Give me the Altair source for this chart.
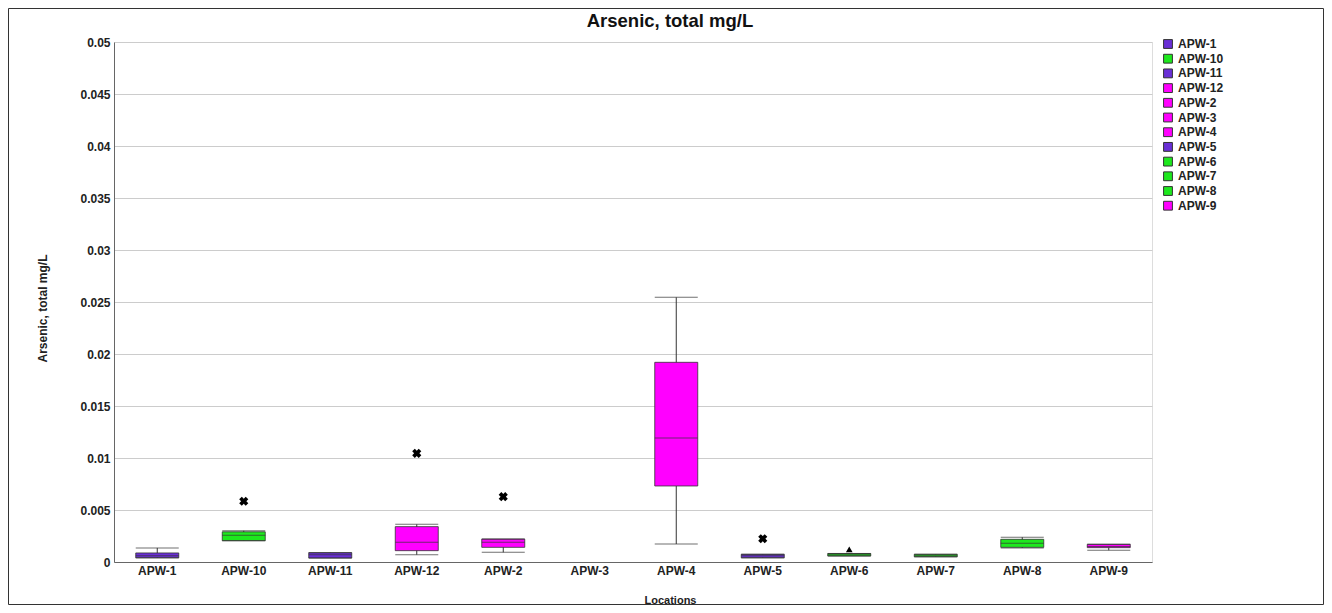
import altair as alt
import pandas as pd

chart_title = "Arsenic, total mg/L"
categories = ["APW-1", "APW-10", "APW-11", "APW-12", "APW-2", "APW-3",
              "APW-4", "APW-5", "APW-6", "APW-7", "APW-8", "APW-9"]
box_colors = ["#6a2fd6", "#1ee81e", "#6a2fd6", "#ff00ff", "#ff00ff", "#ff00ff",
              "#ff00ff", "#6a2fd6", "#1ee81e", "#1ee81e", "#1ee81e", "#ff00ff"]
whisker_low = [0.00040, 0.00205, 0.00038, 0.00070, 0.00093, None,
               0.00173, 0.00040, 0.00058, 0.00050, 0.00135, 0.00113]
q1 = [0.00040, 0.00205, 0.00038, 0.00109, 0.00141, None,
      0.00731, 0.00040, 0.00058, 0.00050, 0.00141, 0.00138]
median = [0.00060, 0.00257, 0.00070, 0.00190, 0.00190, None,
          0.01192, 0.00060, 0.00070, 0.00060, 0.00180, 0.00150]
q3 = [0.00087, 0.00290, 0.00090, 0.00340, 0.00220, None,
      0.01920, 0.00074, 0.00082, 0.00074, 0.00218, 0.00170]
whisker_high = [0.00135, 0.00300, 0.00090, 0.00362, 0.00220, None,
                0.02545, 0.00074, 0.00082, 0.00074, 0.00238, 0.00170]

outlier_locations = ["APW-10", "APW-12", "APW-2", "APW-5"]
outlier_values = [0.00584, 0.01045, 0.00628, 0.00224]
far_locations = ["APW-6"]
far_values = [0.00122]

y_ticks = [0, 0.005, 0.01, 0.015, 0.02, 0.025, 0.03, 0.035, 0.04, 0.045, 0.05]

W, H = 1038, 520
PAD_L, PAD_T = 106, 34
TOTAL_W, TOTAL_H = 1316, 597

stats = pd.DataFrame({
    "Location": categories,
    "low": whisker_low,
    "q1": q1,
    "median": median,
    "q3": q3,
    "high": whisker_high,
})
outliers = pd.DataFrame({"Location": outlier_locations, "value": outlier_values})
far = pd.DataFrame({"Location": far_locations, "value": far_values})

FONT = "Liberation Sans"

x_enc = alt.X(
    "Location:N",
    sort=categories,
    scale=alt.Scale(domain=categories, paddingInner=0, paddingOuter=0),
    axis=alt.Axis(
        title="Locations", labelAngle=0, ticks=False, grid=False,
        labelFont=FONT, labelFontSize=12, labelFontWeight="bold", labelColor="#222",
        labelPadding=3, domainColor="#666",
        titleFont=FONT, titleFontSize=11, titleFontWeight="bold", titleColor="#222",
        titleX=556, titleY=38, titleBaseline="middle", titleAlign="center",
    ),
)
y_scale = alt.Scale(domain=[0, 0.05], nice=False, zero=True)
y_axis = alt.Axis(
    title="Arsenic, total mg/L", values=y_ticks, format="~g", ticks=False,
    grid=True, gridColor="#cccccc", gridWidth=1, domainColor="#666",
    labelFont=FONT, labelFontSize=12, labelFontWeight="bold", labelColor="#222",
    labelPadding=4,
    titleFont=FONT, titleFontSize=12, titleFontWeight="bold", titleColor="#222",
    titleX=-72, titleY=H / 2 + 6, titleAngle=-90, titleBaseline="middle", titleAlign="center",
)

base = alt.Chart(stats)

whisker = base.mark_rule(color="#333", strokeWidth=1).encode(
    x=x_enc,
    y=alt.Y("low:Q", scale=y_scale, axis=y_axis),
    y2="high:Q",
)
box = base.mark_bar(size=43, stroke="#333", strokeWidth=0.8).encode(
    x=x_enc,
    y=alt.Y("q1:Q", scale=y_scale, axis=y_axis),
    y2="q3:Q",
    color=alt.Color(
        "Location:N",
        scale=alt.Scale(domain=categories, range=box_colors),
        legend=alt.Legend(
            title=None, orient="none", legendX=1048, legendY=-4,
            symbolType="square", symbolSize=78, symbolStrokeColor="#333",
            symbolStrokeWidth=1, symbolOpacity=1,
            labelFont=FONT, labelFontSize=12, labelFontWeight="bold", labelColor="#222",
            labelOffset=4, rowPadding=0.7, values=categories,
        ),
    ),
)
med = base.mark_tick(size=43, thickness=1, color="#333").encode(
    x=x_enc, y=alt.Y("median:Q", scale=y_scale, axis=y_axis)
)
cap_hi = base.mark_tick(size=43, thickness=1, color="#333").encode(
    x=x_enc, y=alt.Y("high:Q", scale=y_scale, axis=y_axis)
)
cap_lo = base.mark_tick(size=43, thickness=1, color="#333").encode(
    x=x_enc, y=alt.Y("low:Q", scale=y_scale, axis=y_axis)
)
out_pts = alt.Chart(outliers).mark_point(
    shape="cross", angle=45, filled=True, color="#000", size=85, opacity=1
).encode(x=x_enc, y=alt.Y("value:Q", scale=y_scale, axis=y_axis))
far_pts = alt.Chart(far).mark_point(
    shape="triangle-up", filled=True, color="#000", size=45, opacity=1
).encode(x=x_enc, y=alt.Y("value:Q", scale=y_scale, axis=y_axis))

frame = alt.Chart(pd.DataFrame({"k": [0]})).mark_rect(
    fillOpacity=0, stroke="#333", strokeWidth=1
).encode(
    x=alt.value(-PAD_L + 0.5), x2=alt.value(TOTAL_W - PAD_L - 0.5),
    y=alt.value(-PAD_T + 0.5), y2=alt.value(TOTAL_H - PAD_T - 0.5),
)

title_text = alt.Chart(pd.DataFrame({"t": [chart_title]})).mark_text(
    font=FONT, fontSize=18.5, fontWeight="bold", color="#111",
    align="center", baseline="alphabetic",
).encode(text="t:N", x=alt.value(556), y=alt.value(-15))

chart = alt.layer(whisker, box, med, cap_hi, cap_lo, out_pts, far_pts, frame, title_text).properties(
    width=W, height=H,
    autosize=alt.AutoSizeParams(type="none"),
    padding={"left": PAD_L, "top": PAD_T, "right": TOTAL_W - PAD_L - W, "bottom": TOTAL_H - PAD_T - H},
).configure_view(strokeWidth=0).configure(background="white")

chart.save("out.html", embed_options={"renderer": "svg", "actions": False})
